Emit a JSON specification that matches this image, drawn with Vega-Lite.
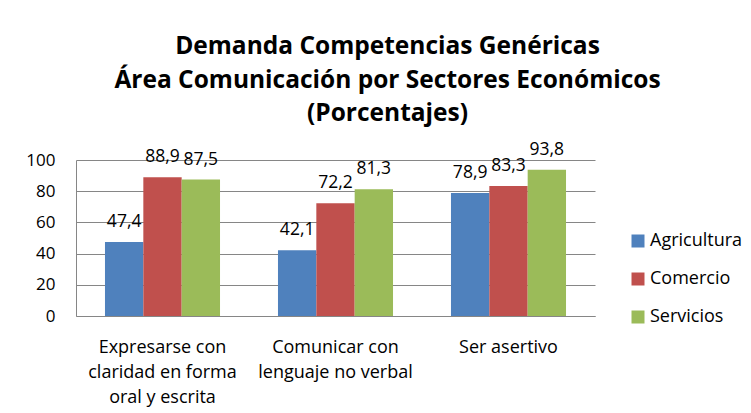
{
  "$schema": "https://vega.github.io/schema/vega-lite/v6.json",
  "width": 519,
  "height": 156,
  "autosize": "none",
  "padding": {"left": 76, "top": 160, "right": 156, "bottom": 97},
  "background": "white",
  "config": {
    "locale": {"number": {"decimal": ",", "thousands": ".", "grouping": [3], "currency": ["", " €"]}},
    "font": "Open Sans",
    "view": {"stroke": null}
  },
  "title": {
    "text": ["Demanda Competencias Genéricas", "Área Comunicación por Sectores Económicos", "(Porcentajes)"],
    "font": "Open Sans",
    "fontSize": 24.5,
    "fontWeight": "bold",
    "color": "black",
    "lineHeight": 33.5,
    "anchor": "middle",
    "frame": "group",
    "dx": 52,
    "offset": 14
  },
  "data": {
    "values": [
      {"category": "Expresarse con claridad en forma oral y escrita", "sector": "Agricultura", "value": 47.4},
      {"category": "Expresarse con claridad en forma oral y escrita", "sector": "Comercio", "value": 88.9},
      {"category": "Expresarse con claridad en forma oral y escrita", "sector": "Servicios", "value": 87.5},
      {"category": "Comunicar con lenguaje no verbal", "sector": "Agricultura", "value": 42.1},
      {"category": "Comunicar con lenguaje no verbal", "sector": "Comercio", "value": 72.2},
      {"category": "Comunicar con lenguaje no verbal", "sector": "Servicios", "value": 81.3},
      {"category": "Ser asertivo", "sector": "Agricultura", "value": 78.9},
      {"category": "Ser asertivo", "sector": "Comercio", "value": 83.3},
      {"category": "Ser asertivo", "sector": "Servicios", "value": 93.8}
    ]
  },
  "encoding": {
    "x": {
      "field": "category",
      "type": "nominal",
      "sort": ["Expresarse con claridad en forma oral y escrita", "Comunicar con lenguaje no verbal", "Ser asertivo"],
      "scale": {"paddingInner": 0.335, "paddingOuter": 0.1675},
      "axis": {
        "title": null,
        "labelAngle": 0,
        "labelFont": "Open Sans",
        "labelFontSize": 18,
        "labelColor": "black",
        "labelPadding": 31,
        "labelLineHeight": 25,
        "labelBaseline": "middle",
        "labelLimit": 0,
        "ticks": false,
        "domain": true,
        "domainColor": "#868686",
        "domainWidth": 1,
        "labelExpr": "datum.value == 'Expresarse con claridad en forma oral y escrita' ? ['Expresarse con', 'claridad en forma', 'oral y escrita'] : datum.value == 'Comunicar con lenguaje no verbal' ? ['Comunicar con', 'lenguaje no verbal'] : datum.value"
      }
    },
    "xOffset": {"field": "sector", "type": "nominal", "sort": ["Agricultura", "Comercio", "Servicios"]},
    "y": {
      "field": "value",
      "type": "quantitative",
      "scale": {"domain": [0, 100], "nice": false},
      "axis": {
        "title": null,
        "values": [0, 20, 40, 60, 80, 100],
        "format": "d",
        "grid": true,
        "gridColor": "#868686",
        "gridWidth": 1,
        "domain": true,
        "domainColor": "#868686",
        "ticks": false,
        "labelFont": "Open Sans",
        "labelFontSize": 17,
        "labelColor": "black",
        "labelPadding": 21
      }
    }
  },
  "layer": [
    {
      "mark": {"type": "bar"},
      "encoding": {
        "color": {
          "field": "sector",
          "type": "nominal",
          "sort": ["Agricultura", "Comercio", "Servicios"],
          "scale": {"domain": ["Agricultura", "Comercio", "Servicios"], "range": ["#4F81BD", "#C0504D", "#9BBB59"]},
          "legend": {
            "title": null,
            "orient": "none",
            "legendX": 553,
            "legendY": 72,
            "padding": 0,
            "symbolType": "square",
            "symbolSize": 169,
            "symbolStrokeWidth": 0,
            "symbolOpacity": 1,
            "labelFont": "Open Sans",
            "labelFontSize": 18,
            "labelColor": "black",
            "labelOffset": 3,
            "rowPadding": 20
          }
        }
      }
    },
    {
      "mark": {"type": "text", "baseline": "alphabetic", "dy": -15, "fontSize": 17.5, "font": "Open Sans", "color": "black"},
      "encoding": {
        "text": {"field": "value", "type": "quantitative", "format": ".1f"}
      }
    }
  ]
}
